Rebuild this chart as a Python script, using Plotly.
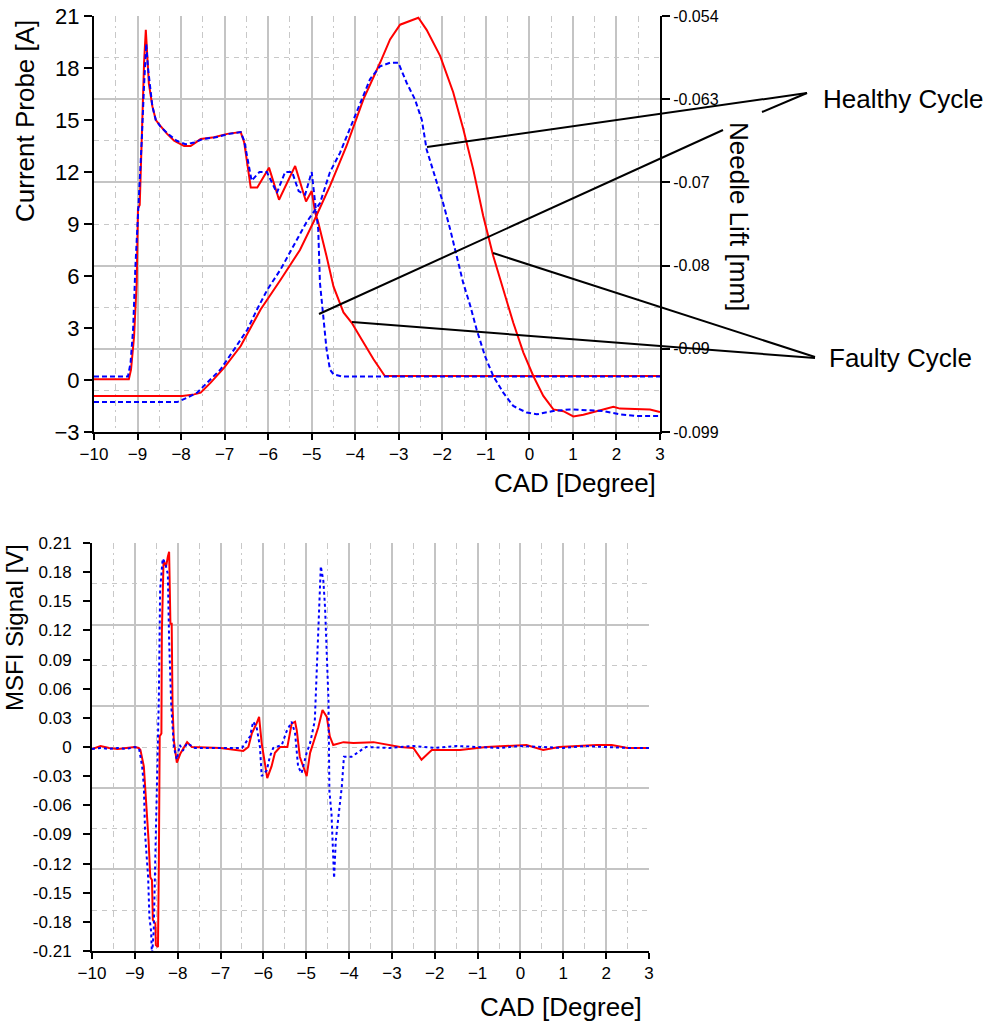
import plotly.graph_objects as go

# ---------------- Top chart: current probe [A] (left) and needle lift [mm] (right)
cad_cur_faulty = [-10, -9.2, -9.15, -9.08, -9.02, -8.99, -8.95, -8.9, -8.85, -8.81,
                  -8.78, -8.74, -8.66, -8.58, -8.47, -8.32, -8.16, -7.93, -7.78, -7.55,
                  -7.24, -6.94, -6.63, -6.55, -6.48, -6.4, -6.25, -5.98, -5.75, -5.38,
                  -5.13, -5.0, -4.92, -4.85, -4.66, -4.5, -4.27, -4.08, -3.89, -3.58,
                  -3.32, 3.0]
current_faulty = [0.05, 0.05, 0.6, 2.5, 5.6, 9.9, 10.1, 14.5, 18.3, 20.2,
                  18.6, 17.1, 15.8, 15.0, 14.65, 14.2, 13.8, 13.5, 13.5, 13.9,
                  14.0, 14.2, 14.3, 13.7, 12.5, 11.1, 11.1, 12.25, 10.4, 12.35,
                  10.3, 10.9, 9.65, 9.1, 7.15, 5.4, 3.9, 3.3, 2.5, 1.2,
                  0.23, 0.23]

cad_cur_healthy = [-10, -9.22, -9.16, -9.1, -9.05, -9.0, -8.95, -8.9, -8.85, -8.8,
                   -8.76, -8.72, -8.66, -8.58, -8.47, -8.3, -8.1, -7.9, -7.7, -7.5,
                   -7.2, -6.9, -6.63, -6.55, -6.45, -6.38, -6.2, -6.03, -5.8, -5.61,
                   -5.45, -5.3, -5.15, -5.0, -4.92, -4.85, -4.81, -4.73, -4.66, -4.58,
                   -4.5, -4.3, 3.0]
current_healthy = [0.2, 0.2, 1.0, 3.0, 6.5, 9.0, 11.0, 14.0, 17.0, 19.4,
                   18.0, 17.0, 15.8, 15.0, 14.6, 14.2, 13.8, 13.6, 13.7, 13.9,
                   14.0, 14.2, 14.3, 13.8, 12.5, 11.5, 12.0, 12.0, 10.8, 12.0,
                   12.0, 10.9, 10.7, 12.0, 10.2, 8.7, 5.6, 3.7, 1.8, 0.6,
                   0.33, 0.2, 0.2]

cad_nl_faulty = [-10, -7.97, -7.7, -7.55, -7.32, -7.01, -6.63, -6.17, -5.71, -5.27,
                 -4.96, -4.58, -4.2, -3.81, -3.43, -3.2, -2.97, -2.55, -2.36, -2.05,
                 -1.75, -1.52, -1.29, -1.06, -0.83, -0.6, -0.37, -0.14, 0.09, 0.32,
                 0.55, 0.78, 1.01, 1.24, 1.55, 1.93, 2.08, 2.77, 3.0]
needle_faulty = [-0.0951, -0.0951, -0.09493, -0.09474, -0.09366, -0.09204, -0.0897, -0.08572, -0.0825, -0.07931,
                 -0.07631, -0.07238, -0.06806, -0.063, -0.05906, -0.05653, -0.05494, -0.05419, -0.0555, -0.05831,
                 -0.06225, -0.06619, -0.07059, -0.07564, -0.07997, -0.08362, -0.08719, -0.09038, -0.09294, -0.0951,
                 -0.09656, -0.09675, -0.09731, -0.09713, -0.09675, -0.09626, -0.09647, -0.09656, -0.09684]

cad_nl_healthy = [-10, -8.09, -7.86, -7.63, -7.4, -7.09, -6.78, -6.48, -6.25, -6.02,
                  -5.71, -5.42, -5.12, -4.81, -4.58, -4.35, -4.12, -3.89, -3.66, -3.43,
                  -3.2, -3.01, -2.82, -2.63, -2.47, -2.36, -2.17, -1.98, -1.82, -1.67,
                  -1.52, -1.36, -1.21, -1.02, -0.83, -0.6, -0.37, -0.06, 0.17, 0.55,
                  0.93, 1.7, 2.08, 2.47, 3.0]
needle_healthy = [-0.09576, -0.09576, -0.09529, -0.09474, -0.09366, -0.09221, -0.09006, -0.08794, -0.08569, -0.08362,
                  -0.08138, -0.07894, -0.07631, -0.07425, -0.07088, -0.06881, -0.06619, -0.06338, -0.06084, -0.05944,
                  -0.05906, -0.05906, -0.06122, -0.063, -0.06525, -0.06844, -0.07125, -0.07425, -0.07706, -0.07997,
                  -0.08287, -0.08531, -0.08794, -0.09079, -0.09294, -0.09474, -0.09619, -0.0969, -0.09709, -0.09673,
                  -0.09656, -0.09673, -0.09709, -0.09728, -0.09728]

cad_ticks = list(range(-10, 4))
current_ticks = [-3, 0, 3, 6, 9, 12, 15, 18, 21]
needle_ticks = [-0.099, -0.09, -0.081, -0.072, -0.063, -0.054]
needle_tick_text = ["-0.099", "-0.09", "-0.08", "-0.07", "-0.063", "-0.054"]

# ---------------- Bottom chart: MSFI signal [V]
cad_msfi_faulty = [-10, -9.8, -9.6, -9.4, -9.2, -9.0, -8.91, -8.87, -8.79, -8.76,
                   -8.72, -8.68, -8.64, -8.6, -8.58, -8.52, -8.51, -8.46, -8.44, -8.42,
                   -8.38, -8.37, -8.33, -8.27, -8.23, -8.2, -8.17, -8.14, -8.12, -8.09,
                   -8.02, -7.94, -7.78, -7.67, -7.0, -6.47, -6.35, -6.27, -6.16, -6.1,
                   -6.04, -5.96, -5.91, -5.81, -5.73, -5.61, -5.44, -5.34, -5.26, -5.22,
                   -5.15, -5.07, -4.99, -4.91, -4.84, -4.72, -4.62, -4.52, -4.45, -4.37,
                   -4.13, -3.9, -3.43, -2.81, -2.5, -2.31, -2.07, -1.41, -0.8, 0.14,
                   0.53, 0.9, 1.78, 2.13, 2.5, 3.0]
msfi_faulty = [-0.002, 0.001, -0.001, -0.002, -0.001, 0.0, -0.001, -0.003, -0.02, -0.041,
               -0.065, -0.096, -0.134, -0.137, -0.178, -0.182, -0.204, -0.206, -0.12, 0.011,
               0.014, 0.117, 0.192, 0.186, 0.196, 0.201, 0.127, 0.127, 0.042, 0.007,
               -0.016, -0.007, 0.005, 0.0, -0.001, -0.004, 0.0, 0.014, 0.024, 0.031,
               0.004, -0.02, -0.032, -0.02, -0.006, 0.0, 0.0, 0.024, 0.026, 0.017,
               -0.01, -0.02, -0.03, -0.006, 0.004, 0.02, 0.038, 0.031, 0.011, 0.002,
               0.005, 0.004, 0.005, 0.0, -0.001, -0.013, -0.003, -0.003, 0.0, 0.002,
               -0.003, 0.0, 0.002, 0.002, -0.001, -0.001]

cad_msfi_healthy = [-10, -9.8, -9.6, -9.4, -9.2, -9.0, -8.9, -8.83, -8.79, -8.76,
                    -8.69, -8.66, -8.62, -8.6, -8.56, -8.52, -8.48, -8.44, -8.41, -8.35,
                    -8.29, -8.23, -8.2, -8.15, -8.09, -8.02, -7.95, -7.88, -7.78, -7.6,
                    -7.0, -6.5, -6.31, -6.24, -6.16, -6.08, -6.04, -5.92, -5.85, -5.77,
                    -5.57, -5.46, -5.34, -5.26, -5.19, -5.11, -4.99, -4.91, -4.8, -4.76,
                    -4.72, -4.66, -4.6, -4.56, -4.48, -4.46, -4.41, -4.37, -4.35, -4.31,
                    -4.25, -4.17, -4.12, -3.94, -3.71, -3.6, -3.05, -2.5, -2.0, -1.5,
                    -1.0, -0.5, 0.0, 0.5, 1.0, 1.5, 2.0, 2.5, 3.0]
msfi_healthy = [-0.002, -0.001, -0.002, -0.001, -0.002, 0.0, -0.002, -0.02, -0.04, -0.09,
                -0.134, -0.175, -0.19, -0.215, -0.19, -0.12, -0.026, 0.05, 0.162, 0.194,
                0.189, 0.178, 0.11, 0.042, 0.0, -0.013, 0.002, -0.004, 0.004, -0.001,
                -0.001, -0.001, 0.011, 0.026, 0.021, 0.0, -0.03, -0.024, -0.01, -0.001,
                0.002, 0.016, 0.026, 0.014, -0.02, -0.027, -0.006, 0.004, 0.027, 0.075,
                0.126, 0.186, 0.171, 0.143, 0.047, -0.045, -0.069, -0.113, -0.135, -0.096,
                -0.069, -0.041, -0.01, -0.01, -0.003, 0.0, -0.001, 0.001, -0.001, 0.001,
                0.0, -0.001, 0.001, 0.0, -0.001, 0.001, 0.0, -0.001, -0.001]

msfi_ticks = [0.21, 0.18, 0.15, 0.12, 0.09, 0.06, 0.03, 0, -0.03, -0.06, -0.09, -0.12, -0.15, -0.18, -0.21]
msfi_tick_text = ["0.21", "0.18", "0.15", "0.12", "0.09", "0.06", "0.03", "0",
                  "-0.03", "-0.06", "-0.09", "-0.12", "-0.15", "-0.18", "-0.21"]

# ---------------- figure
W, H = 989, 1025
FONT = "Arial, Liberation Sans, sans-serif"
RED = "#ff0000"
BLUE = "#0000ff"
GRID = "#c4c4c4"
GRID2 = "#c8c8c8"


def px(x):
    return x / W


def py(y):
    return 1 - y / H


fig = go.Figure()
fig.add_trace(go.Scatter(x=cad_cur_faulty, y=current_faulty, mode="lines",
                         line=dict(color=RED, width=2), xaxis="x", yaxis="y"))
fig.add_trace(go.Scatter(x=cad_nl_faulty, y=needle_faulty, mode="lines",
                         line=dict(color=RED, width=2), xaxis="x", yaxis="y2"))
fig.add_trace(go.Scatter(x=cad_cur_healthy, y=current_healthy, mode="lines",
                         line=dict(color=BLUE, width=2, dash="5px,3px"), xaxis="x", yaxis="y"))
fig.add_trace(go.Scatter(x=cad_nl_healthy, y=needle_healthy, mode="lines",
                         line=dict(color=BLUE, width=2, dash="5px,3px"), xaxis="x", yaxis="y2"))
fig.add_trace(go.Scatter(x=[], y=[], xaxis="x", yaxis="y3", hoverinfo="skip"))

fig.add_trace(go.Scatter(x=cad_msfi_faulty, y=msfi_faulty, mode="lines",
                         line=dict(color=RED, width=2), xaxis="x2", yaxis="y4"))
fig.add_trace(go.Scatter(x=cad_msfi_healthy, y=msfi_healthy, mode="lines",
                         line=dict(color=BLUE, width=2, dash="3px,3px"), xaxis="x2", yaxis="y4"))
fig.add_trace(go.Scatter(x=[], y=[], xaxis="x2", yaxis="y5", hoverinfo="skip"))

top_x_dom = [px(94), px(660)]
top_y_dom = [py(432), py(16)]
bot_x_dom = [px(92), px(649)]
bot_y_dom = [py(951), py(543)]

xcommon = dict(range=[-10, 3], tickmode="array", tickvals=cad_ticks,
               showgrid=True, gridcolor=GRID, gridwidth=2,
               minor=dict(tick0=-10, dtick=0.5, showgrid=True, gridcolor=GRID2,
                          gridwidth=1.2, griddash="6px,4px,2px,4px", ticks=""),
               showline=True, linecolor="black", linewidth=2, zeroline=False,
               ticks="outside", ticklen=6, tickwidth=1.5, tickcolor="black",
               automargin=False, fixedrange=True)

fig.update_layout(
    width=W, height=H, autosize=False,
    margin=dict(l=0, r=0, t=0, b=0, pad=0),
    paper_bgcolor="white", plot_bgcolor="white",
    showlegend=False,
    font=dict(family=FONT, color="black"),
    xaxis=dict(domain=top_x_dom, anchor="y", tickfont=dict(size=17), **xcommon),
    yaxis=dict(domain=top_y_dom, anchor="x", range=[-3, 21], tickmode="array",
               tickvals=current_ticks, showgrid=False, zeroline=False,
               showline=True, linecolor="black", linewidth=2,
               ticks="outside", ticklen=8, tickwidth=1.5, tickcolor="black",
               tickfont=dict(size=22), automargin=False),
    yaxis2=dict(overlaying="y", anchor="x", side="right", range=[-0.099, -0.054],
                tickmode="array", tickvals=needle_ticks, ticktext=needle_tick_text,
                showgrid=False, zeroline=False, showline=True, linecolor="black",
                linewidth=2, ticks="outside", ticklen=8, tickwidth=1.5,
                tickcolor="black", tickfont=dict(size=16), automargin=False),
    yaxis3=dict(overlaying="y", anchor="x", range=[-0.099, -0.054],
                tickmode="linear", tick0=-0.099, dtick=0.009,
                showgrid=True, gridcolor=GRID, gridwidth=2,
                minor=dict(tick0=-0.099, dtick=0.0045, showgrid=True, gridcolor=GRID2,
                           gridwidth=1.2, griddash="5px,5px", ticks=""),
                showticklabels=False, ticks="", showline=False, zeroline=False,
                automargin=False),
    xaxis2=dict(domain=bot_x_dom, anchor="y4", tickfont=dict(size=17), **xcommon),
    yaxis4=dict(domain=bot_y_dom, anchor="x2", range=[-0.21, 0.21], tickmode="array",
                tickvals=msfi_ticks, ticktext=msfi_tick_text, showgrid=False,
                zeroline=False, showline=True, linecolor="black", linewidth=2,
                ticks="outside", ticklen=7, tickwidth=1.5, tickcolor="black",
                ticklabelstandoff=8,
                tickfont=dict(size=17), automargin=False),
    yaxis5=dict(overlaying="y4", anchor="x2", range=[-0.21, 0.21],
                tickmode="linear", tick0=-0.21, dtick=0.084,
                showgrid=True, gridcolor=GRID, gridwidth=2,
                minor=dict(tick0=-0.21, dtick=0.042, showgrid=True, gridcolor=GRID2,
                           gridwidth=1.2, griddash="5px,5px", ticks=""),
                showticklabels=False, ticks="", showline=False, zeroline=False,
                automargin=False),
)

# annotation pointer lines (pixel positions of the original figure)
pointer_lines = [
    ((427, 147), (807, 93)),     # Healthy -> needle lift
    ((319, 314), (723, 130)),    # Healthy -> current (part before label)
    ((762, 112), (807, 93)),     # Healthy -> current (part after label)
    ((493, 253), (815, 357)),    # Faulty -> needle lift
    ((352, 322), (815, 358)),    # Faulty -> current
]
for (x0, y0), (x1, y1) in pointer_lines:
    fig.add_shape(type="line", xref="paper", yref="paper",
                  x0=px(x0), y0=py(y0), x1=px(x1), y1=py(y1),
                  line=dict(color="black", width=2), layer="above")

texts = [
    dict(text="Current Probe [A]", x=25, y=121, size=26, angle=-90, xa="center"),
    dict(text="Needle Lift [mm]", x=739, y=216, size=26, angle=90, xa="center"),
    dict(text="CAD [Degree]", x=575, y=483, size=26, angle=0, xa="center"),
    dict(text="Healthy Cycle", x=821, y=99, size=26, angle=0, xa="left"),
    dict(text="Faulty Cycle", x=827, y=358, size=26, angle=0, xa="left"),
    dict(text="MSFI Signal [V]", x=14, y=628, size=24, angle=-90, xa="center"),
    dict(text="CAD [Degree]", x=561, y=1007, size=26, angle=0, xa="center"),
]
for t in texts:
    fig.add_annotation(text=t["text"], xref="paper", yref="paper",
                       x=px(t["x"]), y=py(t["y"]), xanchor=t["xa"], yanchor="middle",
                       textangle=t["angle"], showarrow=False,
                       font=dict(family=FONT, size=t["size"], color="black"))

fig.write_html("out.html")
